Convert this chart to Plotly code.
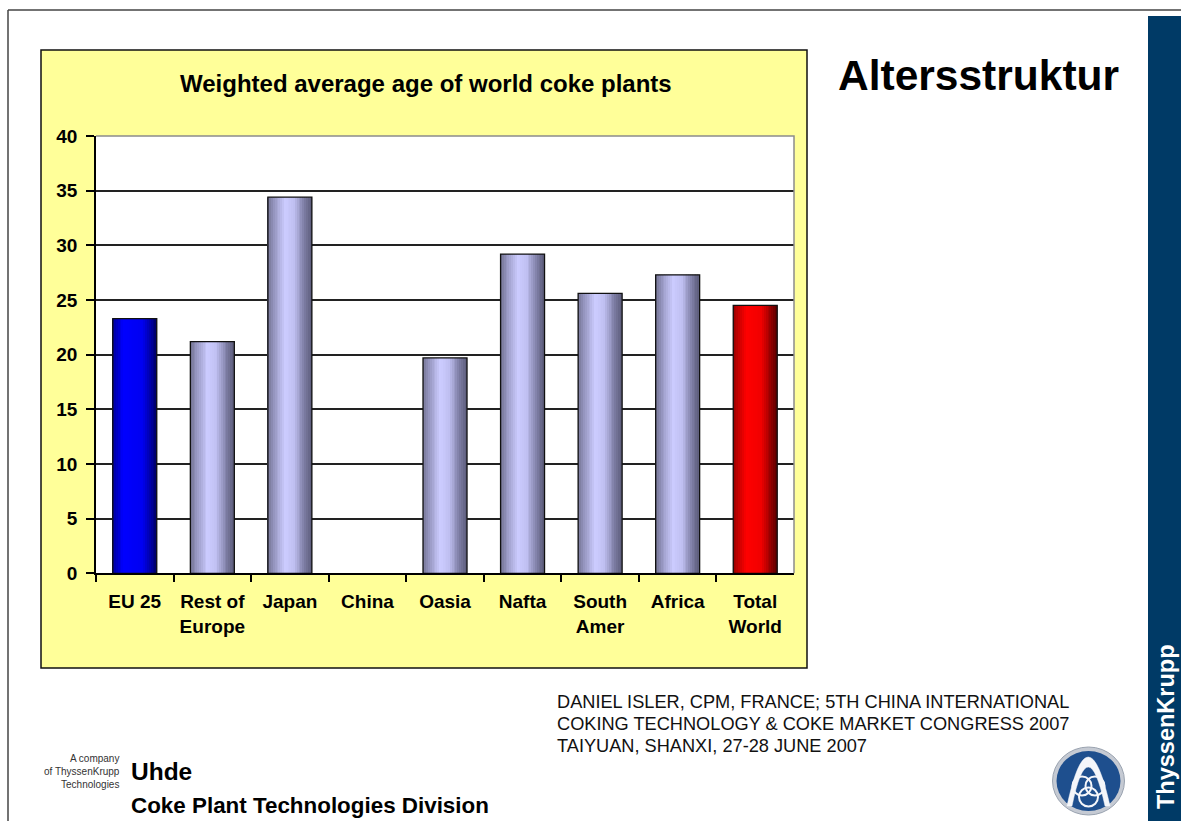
import plotly.graph_objects as go

# ---------------- data ----------------
categories = ["EU 25", "Rest of<br>Europe", "Japan", "China", "Oasia", "Nafta",
              "South<br>Amer", "Africa", "Total<br>World"]
avg_age = [23.3, 21.2, 34.4, None, 19.7, 29.2, 25.6, 27.3, 24.5]
y_ticks = [0, 5, 10, 15, 20, 25, 30, 35, 40]
bar_style = ["blue", "lav", "lav", "lav", "lav", "lav", "lav", "lav", "red"]

chart_title = "Weighted average age of world coke plants"
slide_title = "Altersstruktur"
footer_lines = ["DANIEL ISLER, CPM, FRANCE; 5TH CHINA INTERNATIONAL",
                "COKING TECHNOLOGY & COKE MARKET CONGRESS 2007",
                "TAIYUAN, SHANXI, 27-28 JUNE 2007"]

# ---------------- geometry helpers ----------------
W, H = 1181, 821
def px(x):
    return x / W
def py(y):
    return 1 - y / H

FONT = "Liberation Sans, Arial, Helvetica, sans-serif"

# gradient stops (position, rgb) per bar style
stops = {
    "lav": [(0.0, (112, 112, 142)), (0.15, (150, 150, 192)), (0.4, (204, 204, 255)),
            (0.6, (192, 192, 242)), (0.85, (122, 122, 160)), (1.0, (92, 92, 122))],
    "blue": [(0.0, (0, 0, 150)), (0.25, (0, 0, 255)), (0.7, (0, 0, 240)), (1.0, (0, 0, 105))],
    "red": [(0.0, (150, 0, 0)), (0.3, (255, 0, 0)), (0.65, (240, 0, 0)), (1.0, (90, 0, 0))],
}
def grad(style, t):
    s = stops[style]
    for (t0, c0), (t1, c1) in zip(s[:-1], s[1:]):
        if t0 <= t <= t1:
            f = (t - t0) / (t1 - t0) if t1 > t0 else 0
            c = [round(a + (b - a) * f) for a, b in zip(c0, c1)]
            return "rgb(%d,%d,%d)" % tuple(c)
    return "rgb(%d,%d,%d)" % s[-1][1]

fig = go.Figure()

BW = 0.567
N = 24
sw = BW / N
for i in range(N):
    t = (i + 0.5) / N
    fig.add_trace(go.Bar(
        x=categories, y=avg_age, width=sw * 1.08, offset=-BW / 2 + i * sw,
        marker=dict(color=[grad(s, t) for s in bar_style], line=dict(width=0)),
        showlegend=False, hoverinfo="skip"))
fig.add_trace(go.Bar(
    x=categories, y=avg_age, width=BW, offset=-BW / 2,
    marker=dict(color="rgba(0,0,0,0)", line=dict(color="#111111", width=1.3)),
    showlegend=False))

shapes = []
# slide frame
shapes.append(dict(type="line", xref="paper", yref="paper", x0=px(8), x1=px(1181), y0=py(10), y1=py(10),
                   line=dict(color="#444444", width=1.5), layer="below"))
shapes.append(dict(type="line", xref="paper", yref="paper", x0=px(8), x1=px(8), y0=py(10), y1=py(821),
                   line=dict(color="#444444", width=1.5), layer="below"))
# right blue band
shapes.append(dict(type="rect", xref="paper", yref="paper", x0=px(1148), x1=px(1181), y0=py(16), y1=py(821),
                   fillcolor="#003A66", line=dict(width=0), layer="below"))
# yellow chart box
shapes.append(dict(type="rect", xref="paper", yref="paper", x0=px(41), x1=px(807), y0=py(50), y1=py(668),
                   fillcolor="#FFFF99", line=dict(color="#111111", width=1.5), layer="below"))
# white plot area
shapes.append(dict(type="rect", xref="paper", yref="paper", x0=px(96), x1=px(794), y0=py(136), y1=py(573.3),
                   fillcolor="#FFFFFF", line=dict(width=0), layer="below"))
# grey top/right plot border
shapes.append(dict(type="path", xref="paper", yref="paper",
                   path="M %f,%f L %f,%f L %f,%f" % (px(96), py(136), px(794), py(136), px(794), py(573.3)),
                   line=dict(color="#8C8C8C", width=1.5)))

# logo
cx, cy = 1088.5, 781
shapes.append(dict(type="circle", xref="paper", yref="paper", x0=px(cx - 36), x1=px(cx + 36),
                   y0=py(cy + 34), y1=py(cy - 34), fillcolor="#C5CAD3", line=dict(color="#9AA3B0", width=1)))
shapes.append(dict(type="circle", xref="paper", yref="paper", x0=px(cx - 32), x1=px(cx + 32),
                   y0=py(cy + 30), y1=py(cy - 30), fillcolor="#1E4F8E", line=dict(width=0)))
def P(x, y):
    return "%f,%f" % (px(x), py(y))
arch = ("M " + P(1067, 806) + " Q " + P(1088, 708) + " " + P(1110, 806) +
        " L " + P(1105, 806) + " Q " + P(1088, 728) + " " + P(1072, 806) + " Z")
shapes.append(dict(type="path", xref="paper", yref="paper", path=arch,
                   fillcolor="#F4F6FA", line=dict(color="#F4F6FA", width=0.5)))
for (ox, oy) in [(-6.5, -3), (6.5, -3), (0, 8)]:
    r = 9.5
    shapes.append(dict(type="circle", xref="paper", yref="paper",
                       x0=px(cx + ox - r), x1=px(cx + ox + r), y0=py(cy + 8 + oy + r), y1=py(cy + 8 + oy - r),
                       fillcolor="rgba(0,0,0,0)", line=dict(color="#F4F6FA", width=2)))

annotations = []
annotations.append(dict(text="<b>%s</b>" % chart_title, x=px(425.5), y=py(84), xref="paper", yref="paper",
                        xanchor="center", yanchor="middle", showarrow=False,
                        font=dict(family=FONT, size=24, color="#000000")))
annotations.append(dict(text="<b>%s</b>" % slide_title, x=px(836), y=py(75), xref="paper", yref="paper",
                        xanchor="left", yanchor="middle", showarrow=False,
                        font=dict(family=FONT, size=42.5, color="#000000")))
for line, yy in zip(footer_lines, [702, 724, 746]):
    annotations.append(dict(text=line, x=px(555), y=py(yy), xref="paper", yref="paper",
                            xanchor="left", yanchor="middle", showarrow=False,
                            font=dict(family=FONT, size=18.2, color="#111111")))
annotations.append(dict(text="<b>Uhde</b>", x=px(129), y=py(771), xref="paper", yref="paper",
                        xanchor="left", yanchor="middle", showarrow=False,
                        font=dict(family=FONT, size=24.5, color="#000000")))
annotations.append(dict(text="<b>Coke Plant Technologies Division</b>", x=px(129), y=py(805), xref="paper",
                        yref="paper", xanchor="left", yanchor="middle", showarrow=False,
                        font=dict(family=FONT, size=22.4, color="#000000")))
annotations.append(dict(text="A company<br>of ThyssenKrupp<br>Technologies", x=px(122), y=py(771),
                        xref="paper", yref="paper", xanchor="right", yanchor="middle", align="right",
                        showarrow=False, font=dict(family=FONT, size=10, color="#333333")))
annotations.append(dict(text="<b>ThyssenKrupp</b>", x=px(1166), y=py(727), xref="paper", yref="paper",
                        xanchor="center", yanchor="middle", textangle=-90, showarrow=False,
                        font=dict(family=FONT, size=23.5, color="#FFFFFF")))

fig.update_layout(
    width=W, height=H, margin=dict(l=0, r=0, t=0, b=0),
    paper_bgcolor="#FFFFFF", plot_bgcolor="rgba(0,0,0,0)",
    barmode="overlay", template="none", showlegend=False,
    shapes=shapes, annotations=annotations,
    xaxis=dict(domain=[px(96), px(794)], type="category", range=[-0.5, len(categories) - 0.5],
               showline=True, linecolor="#000000", linewidth=1.5, showgrid=False, zeroline=False,
               ticks="outside", tickson="boundaries", ticklen=7, tickcolor="#000000", tickwidth=1.5,
               ticklabelstandoff=10,
               tickfont=dict(family=FONT, size=19, color="#000000", weight="bold"),
               automargin=False, fixedrange=True),
    yaxis=dict(domain=[py(573.3), py(136)], range=[0, 40], tickvals=y_ticks,
               showline=True, linecolor="#000000", linewidth=1.5, showgrid=True,
               gridcolor="#222222", gridwidth=1.6, zeroline=False,
               ticks="outside", ticklen=8, tickcolor="#000000", tickwidth=1.5,
               ticklabelstandoff=5,
               tickfont=dict(family=FONT, size=19, color="#000000", weight="bold"),
               automargin=False, fixedrange=True),
)

fig.write_html("out.html")
